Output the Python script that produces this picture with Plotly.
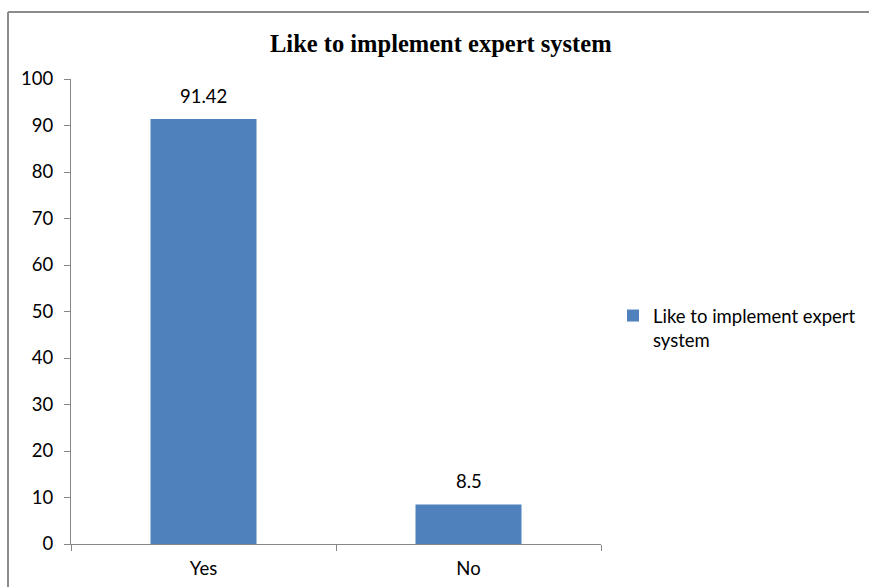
import plotly.graph_objects as go

categories = ["Yes", "No"]
values = [91.42, 8.5]
value_labels = ["91.42", "8.5"]
series_name = "Like to implement expert system"
chart_title = "Like to implement expert system"

bar_color = "#4F81BD"
axis_color = "#868686"
label_font = dict(family="Lato, Open Sans, sans-serif", size=18.5, color="#000000")

W, H = 869, 587
L, R, T, B = 71, 268, 79, 43
pw, ph = W - L - R, H - T - B


def px_x(p):
    return (p - L) / pw


def px_y(p):
    return (H - B - p) / ph


fig = go.Figure()
fig.add_trace(go.Bar(
    x=categories,
    y=values,
    name="Like to implement expert<br>system",
    marker=dict(color=bar_color, line=dict(width=0)),
    width=0.4,
    showlegend=True,
))

# value labels above each bar
for cat, val, txt in zip(categories, values, value_labels):
    fig.add_annotation(
        x=cat, y=val, text=txt, showarrow=False,
        xref="x", yref="y", yanchor="bottom", yshift=10,
        font=label_font,
    )

# chart title
fig.add_annotation(
    x=px_x(441), y=px_y(43), xref="paper", yref="paper",
    xanchor="center", yanchor="middle",
    text="<b>" + chart_title + "</b>", showarrow=False,
    font=dict(family="Liberation Serif, Times New Roman, serif", size=24.5, color="#000000"),
)

# chart-area border (top and left edges)
fig.add_shape(
    type="line", xref="paper", yref="paper",
    x0=px_x(8), x1=px_x(W + 5), y0=px_y(12), y1=px_y(12),
    line=dict(color="#8C8C8C", width=2),
)
fig.add_shape(
    type="line", xref="paper", yref="paper",
    x0=px_x(8), x1=px_x(8), y0=px_y(12), y1=px_y(H + 5),
    line=dict(color="#8C8C8C", width=2),
)

fig.update_layout(
    width=W, height=H,
    margin=dict(l=L, r=R, t=T, b=B, autoexpand=False),
    plot_bgcolor="white", paper_bgcolor="white",
    bargap=0.6,
    showlegend=True,
    legend=dict(
        x=px_x(613), y=px_y(297), xanchor="left", yanchor="top",
        font=label_font, valign="top", itemwidth=30,
        bgcolor="rgba(0,0,0,0)", tracegroupgap=0,
    ),
    xaxis=dict(
        showgrid=False, showline=True, linecolor=axis_color, linewidth=1,
        ticks="outside", tickson="boundaries", ticklen=6, tickcolor=axis_color,
        tickfont=label_font, ticklabelstandoff=8,
        range=[-0.5, 1.5],
    ),
    yaxis=dict(
        range=[0, 100], dtick=10, showgrid=False, zeroline=False,
        showline=True, linecolor=axis_color, linewidth=1,
        ticks="outside", ticklen=6, tickcolor=axis_color,
        tickfont=label_font, ticklabelstandoff=7,
    ),
)

fig.write_html("out.html")
